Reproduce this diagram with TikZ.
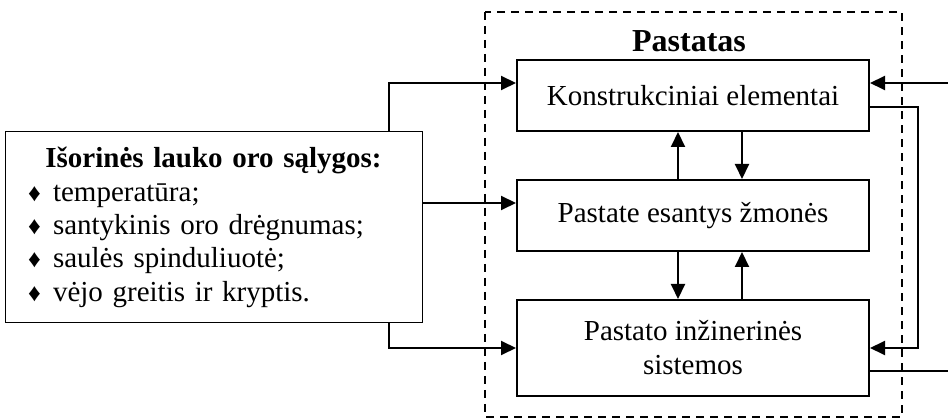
\documentclass[tikz,border=0pt]{standalone}
\usepackage{fontspec}
\setmainfont{Liberation Serif}
\usetikzlibrary{arrows.meta}
\newcommand{\zenklas}{\makebox[25pt][l]{\fontsize{25}{25}\selectfont ♦}}
\tikzset{
	blokas/.style={draw, line width=2pt, minimum width=352pt, inner sep=2pt, align=center, font=\fontsize{29}{34}\selectfont},
	arr/.style={line width=2pt, -{Triangle[length=15pt,width=14pt]}},
	ln/.style={line width=2pt}
}
\begin{document}
\begin{tikzpicture}[x=1pt, y=-1pt]
		\useasboundingbox (0,0) rectangle (948,419);
		%building frame
		\draw[line width=1.5pt, dash pattern=on 8pt off 6pt] (485,12) rectangle (902,417);
		\node[anchor=base, font=\fontsize{32}{34}\selectfont\bfseries] (pastatas) at (689,52){Pastatas};
		
		\node[blokas, minimum height=71pt] (kon) at (693,95.5){Konstrukciniai elementai};
		\node[blokas, minimum height=71pt] (zmo) at (693,215.5){Pastate esantys žmonės};
		\node[blokas, minimum height=96pt] (sis) at (693,348){Pastato inžinerinės\\sistemos};
		
		%outdoor conditions
		\node[draw, line width=1pt, minimum width=417pt, minimum height=191pt, text width=371pt, inner xsep=23pt,
			font=\fontsize{29}{33.3}\selectfont] (lauk) at (213.5,227.5){%
			{\centering\textbf{Išorinės lauko oro sąlygos:}\par}
			\raggedright
			\zenklas temperatūra;\\
			\zenklas santykinis oro drėgnumas;\\
			\zenklas saulės spinduliuotė;\\
			\zenklas vėjo greitis ir kryptis.};
		
		\coordinate (inR) at (948,83);
		\coordinate (outR) at (948,371);
		
		%inputs
		\draw[arr] ([xshift=175.5pt]lauk.north) |- ([yshift=12.5pt]kon.west);
		\draw[arr] ([yshift=24.5pt]lauk.east) -- ([yshift=12.5pt]zmo.west);
		\draw[arr] ([xshift=175.5pt]lauk.south) |- (sis.west);
		\draw[arr] (inR) -- (inR -| kon.east);
		\draw[arr] ([yshift=-11.5pt]kon.east) -- ++(48,0) |- (sis.east);
		\draw[ln] (sis.east |- outR) -- (outR);
		
		%inside
		\draw[arr] ([xshift=-15pt]zmo.north) -- ([xshift=-15pt]kon.south);
		\draw[arr] ([xshift=49pt]kon.south) -- ([xshift=49pt]zmo.north);
		\draw[arr] ([xshift=-15pt]zmo.south) -- ([xshift=-15pt]sis.north);
		\draw[arr] ([xshift=49pt]sis.north) -- ([xshift=49pt]zmo.south);
		\end{tikzpicture}
\end{document}
